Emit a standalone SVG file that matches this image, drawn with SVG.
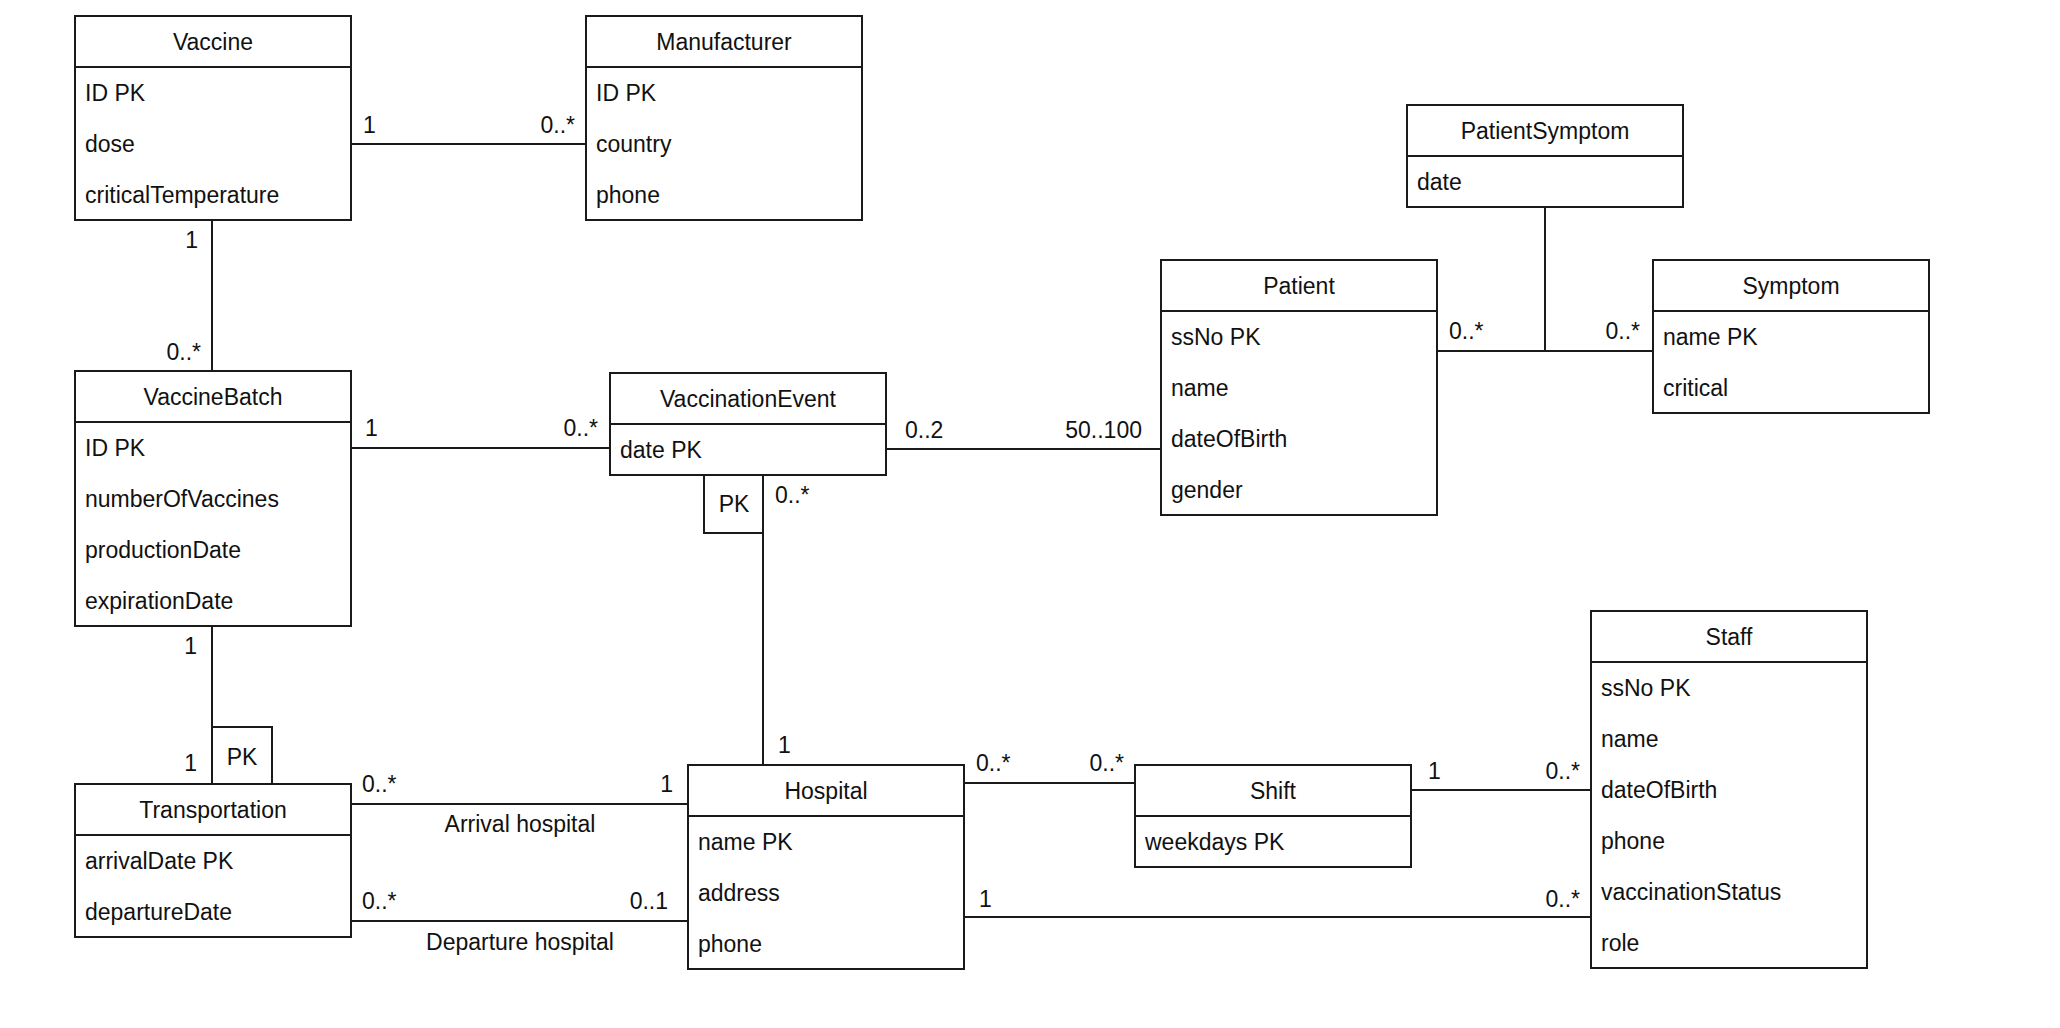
<svg xmlns="http://www.w3.org/2000/svg" width="2060" height="1028" viewBox="0 0 2060 1028">
<style>
  .box { fill: #ffffff; stroke: #1a1a1a; stroke-width: 2; }
  .div { stroke: #1a1a1a; stroke-width: 2; }
  .t { font-family: "Liberation Sans", Arial, Helvetica, sans-serif; font-size: 23px; fill: #111; dominant-baseline: central; }
  .h { text-anchor: middle; }
  .e { text-anchor: end; }
  .m { text-anchor: middle; }
  .c { stroke: #1a1a1a; stroke-width: 2; fill: none; }
</style>
<rect width="2060" height="1028" fill="#ffffff"/>

<g id="connectors">
  <line class="c" x1="351" y1="144" x2="586" y2="144"/>
  <line class="c" x1="212" y1="220" x2="212" y2="371"/>
  <line class="c" x1="351" y1="448" x2="610" y2="448"/>
  <line class="c" x1="886" y1="449" x2="1161" y2="449"/>
  <line class="c" x1="1437" y1="351" x2="1653" y2="351"/>
  <line class="c" x1="1545" y1="207" x2="1545" y2="351"/>
  <line class="c" x1="763" y1="475" x2="763" y2="765"/>
  <path class="c" d="M704 475 V533 H763"/>
  <line class="c" x1="212" y1="626" x2="212" y2="784"/>
  <path class="c" d="M212 727 H272 V784"/>
  <line class="c" x1="351" y1="804" x2="688" y2="804"/>
  <line class="c" x1="351" y1="921" x2="688" y2="921"/>
  <line class="c" x1="964" y1="783" x2="1135" y2="783"/>
  <line class="c" x1="1411" y1="790" x2="1591" y2="790"/>
  <line class="c" x1="964" y1="917" x2="1591" y2="917"/>

  <text class="t" x="363" y="125">1</text>
  <text class="t e" x="575" y="125">0..*</text>
  <text class="t e" x="198" y="240">1</text>
  <text class="t e" x="201" y="352">0..*</text>
  <text class="t" x="365" y="428">1</text>
  <text class="t e" x="598" y="428">0..*</text>
  <text class="t" x="905" y="430">0..2</text>
  <text class="t e" x="1142" y="430">50..100</text>
  <text class="t" x="1449" y="331">0..*</text>
  <text class="t e" x="1640" y="331">0..*</text>
  <text class="t" x="775" y="495">0..*</text>
  <text class="t m" x="734" y="504">PK</text>
  <text class="t" x="778" y="745">1</text>
  <text class="t e" x="197" y="646">1</text>
  <text class="t e" x="197" y="763">1</text>
  <text class="t m" x="242" y="757">PK</text>
  <text class="t" x="362" y="784">0..*</text>
  <text class="t e" x="673" y="784">1</text>
  <text class="t m" x="520" y="824">Arrival hospital</text>
  <text class="t" x="362" y="901">0..*</text>
  <text class="t e" x="668" y="901">0..1</text>
  <text class="t m" x="520" y="942">Departure hospital</text>
  <text class="t" x="976" y="763">0..*</text>
  <text class="t e" x="1124" y="763">0..*</text>
  <text class="t" x="1428" y="771">1</text>
  <text class="t e" x="1580" y="771">0..*</text>
  <text class="t" x="979" y="899">1</text>
  <text class="t e" x="1580" y="899">0..*</text>
</g>

<g id="Vaccine">
  <rect class="box" x="75" y="16" width="276" height="204"/>
  <line class="div" x1="75" y1="67" x2="351" y2="67"/>
  <text class="t h" x="213" y="41.5">Vaccine</text>
  <text class="t" x="85" y="92.5">ID PK</text>
  <text class="t" x="85" y="143.5">dose</text>
  <text class="t" x="85" y="194.5">criticalTemperature</text>
</g>

<g id="Manufacturer">
  <rect class="box" x="586" y="16" width="276" height="204"/>
  <line class="div" x1="586" y1="67" x2="862" y2="67"/>
  <text class="t h" x="724" y="41.5">Manufacturer</text>
  <text class="t" x="596" y="92.5">ID PK</text>
  <text class="t" x="596" y="143.5">country</text>
  <text class="t" x="596" y="194.5">phone</text>
</g>

<g id="VaccineBatch">
  <rect class="box" x="75" y="371" width="276" height="255"/>
  <line class="div" x1="75" y1="422" x2="351" y2="422"/>
  <text class="t h" x="213" y="396.5">VaccineBatch</text>
  <text class="t" x="85" y="447.5">ID PK</text>
  <text class="t" x="85" y="498.5">numberOfVaccines</text>
  <text class="t" x="85" y="549.5">productionDate</text>
  <text class="t" x="85" y="600.5">expirationDate</text>
</g>

<g id="VaccinationEvent">
  <rect class="box" x="610" y="373" width="276" height="102"/>
  <line class="div" x1="610" y1="424" x2="886" y2="424"/>
  <text class="t h" x="748" y="398.5">VaccinationEvent</text>
  <text class="t" x="620" y="449.5">date PK</text>
</g>

<g id="Patient">
  <rect class="box" x="1161" y="260" width="276" height="255"/>
  <line class="div" x1="1161" y1="311" x2="1437" y2="311"/>
  <text class="t h" x="1299" y="285.5">Patient</text>
  <text class="t" x="1171" y="336.5">ssNo PK</text>
  <text class="t" x="1171" y="387.5">name</text>
  <text class="t" x="1171" y="438.5">dateOfBirth</text>
  <text class="t" x="1171" y="489.5">gender</text>
</g>

<g id="PatientSymptom">
  <rect class="box" x="1407" y="105" width="276" height="102"/>
  <line class="div" x1="1407" y1="156" x2="1683" y2="156"/>
  <text class="t h" x="1545" y="130.5">PatientSymptom</text>
  <text class="t" x="1417" y="181.5">date</text>
</g>

<g id="Symptom">
  <rect class="box" x="1653" y="260" width="276" height="153"/>
  <line class="div" x1="1653" y1="311" x2="1929" y2="311"/>
  <text class="t h" x="1791" y="285.5">Symptom</text>
  <text class="t" x="1663" y="336.5">name PK</text>
  <text class="t" x="1663" y="387.5">critical</text>
</g>

<g id="Hospital">
  <rect class="box" x="688" y="765" width="276" height="204"/>
  <line class="div" x1="688" y1="816" x2="964" y2="816"/>
  <text class="t h" x="826" y="790.5">Hospital</text>
  <text class="t" x="698" y="841.5">name PK</text>
  <text class="t" x="698" y="892.5">address</text>
  <text class="t" x="698" y="943.5">phone</text>
</g>

<g id="Transportation">
  <rect class="box" x="75" y="784" width="276" height="153"/>
  <line class="div" x1="75" y1="835" x2="351" y2="835"/>
  <text class="t h" x="213" y="809.5">Transportation</text>
  <text class="t" x="85" y="860.5">arrivalDate PK</text>
  <text class="t" x="85" y="911.5">departureDate</text>
</g>

<g id="Shift">
  <rect class="box" x="1135" y="765" width="276" height="102"/>
  <line class="div" x1="1135" y1="816" x2="1411" y2="816"/>
  <text class="t h" x="1273" y="790.5">Shift</text>
  <text class="t" x="1145" y="841.5">weekdays PK</text>
</g>

<g id="Staff">
  <rect class="box" x="1591" y="611" width="276" height="357"/>
  <line class="div" x1="1591" y1="662" x2="1867" y2="662"/>
  <text class="t h" x="1729" y="636.5">Staff</text>
  <text class="t" x="1601" y="687.5">ssNo PK</text>
  <text class="t" x="1601" y="738.5">name</text>
  <text class="t" x="1601" y="789.5">dateOfBirth</text>
  <text class="t" x="1601" y="840.5">phone</text>
  <text class="t" x="1601" y="891.5">vaccinationStatus</text>
  <text class="t" x="1601" y="942.5">role</text>
</g>
</svg>
